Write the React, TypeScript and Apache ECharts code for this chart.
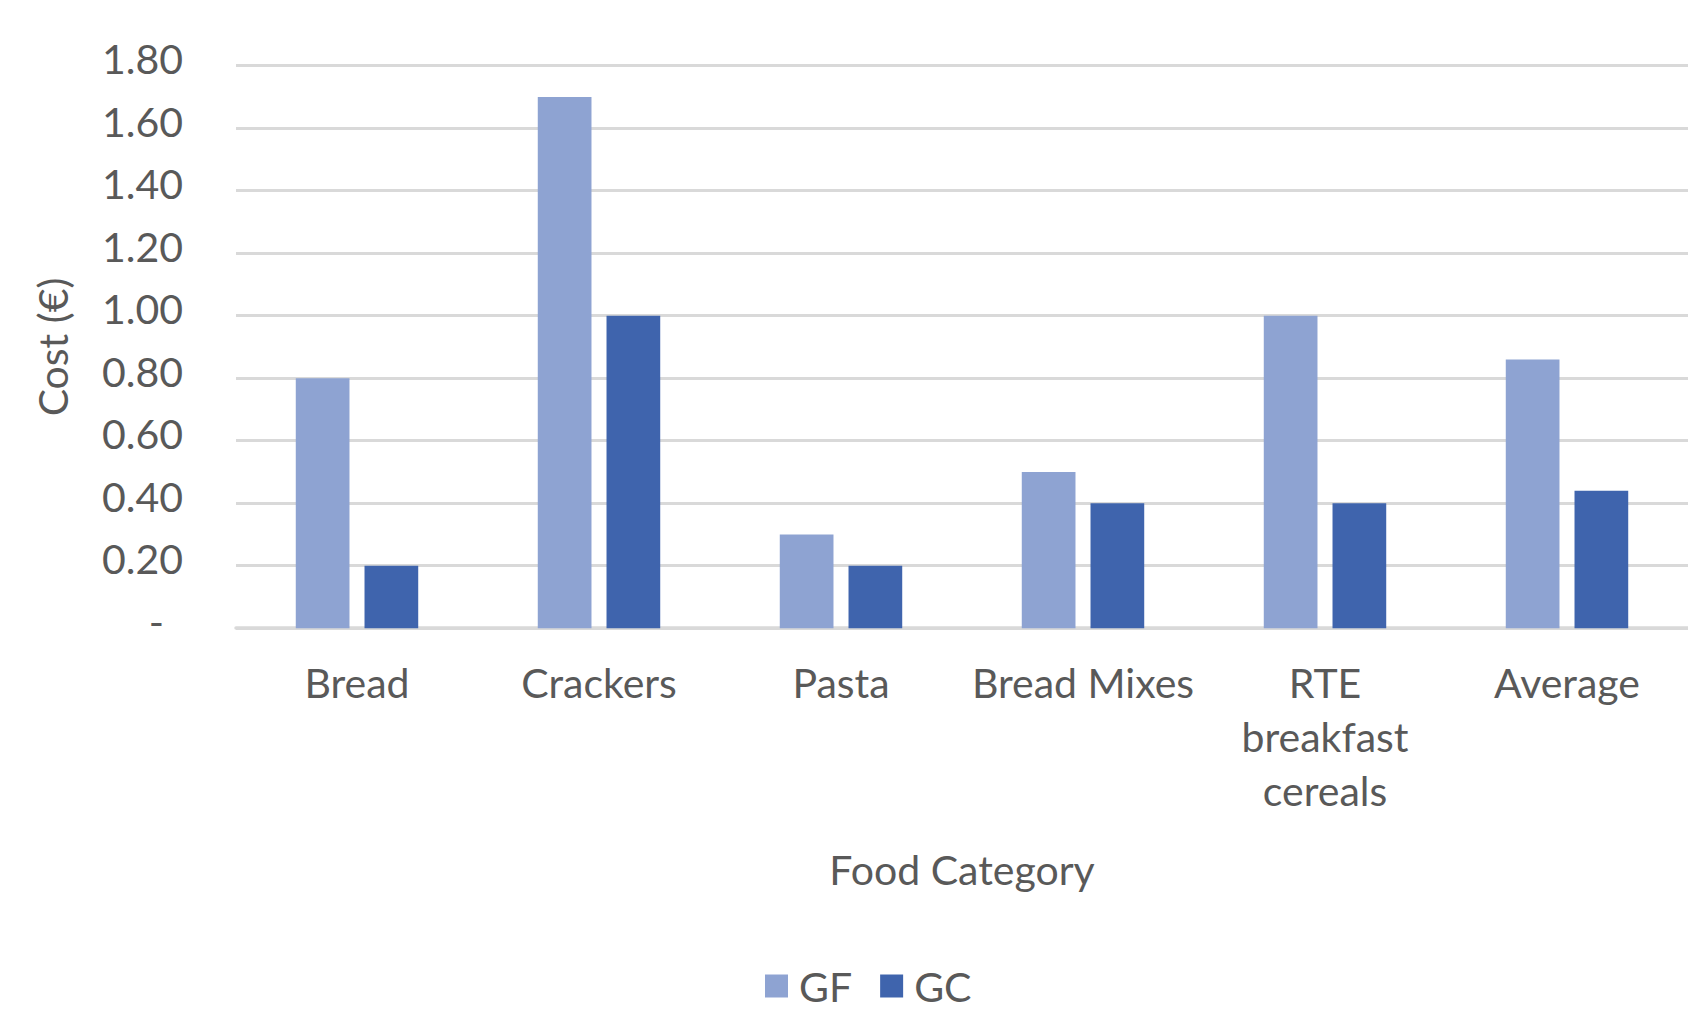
import React, { useEffect, useRef } from "react";
import * as echarts from "echarts";

// Cost per 100 g, gluten-free (GF) vs gluten-containing (GC) products
const categories = ["Bread", "Crackers", "Pasta", "Bread Mixes", "RTE\nbreakfast\ncereals", "Average"];
const gfCost = [0.8, 1.7, 0.3, 0.5, 1.0, 0.86];
const gcCost = [0.2, 1.0, 0.2, 0.4, 0.4, 0.44];
const seriesNames = ["GF", "GC"];

const FONT = "Lato, 'Liberation Sans', sans-serif";
const TEXT = "#595959";
const GRID = "#D9D9D9";

export default function App() {
  const ref = useRef<HTMLDivElement>(null);

  useEffect(() => {
    if (!ref.current) return;
    const chart = echarts.init(ref.current, undefined, { renderer: "svg" });
    chart.setOption({
      animation: false,
      backgroundColor: "#ffffff",
      textStyle: { fontFamily: FONT },
      grid: { left: 236, top: 65.7, width: 1458, height: 562.5, containLabel: false },
      legend: {
        left: 760,
        top: 959,
        itemWidth: 23,
        itemHeight: 23,
        itemGap: 28,
        icon: "rect",
        textStyle: { fontFamily: FONT, fontSize: 41, lineHeight: 44, color: TEXT, padding: [0, 0, 0, 6] },
        data: seriesNames,
      },
      xAxis: {
        type: "category",
        data: categories,
        name: "Food Category",
        nameLocation: "middle",
        nameGap: 221,
        nameTextStyle: { fontFamily: FONT, fontSize: 41, color: TEXT },
        axisLine: { show: true, lineStyle: { color: GRID, width: 3.5 } },
        axisTick: { show: false },
        axisLabel: {
          fontFamily: FONT,
          fontSize: 41,
          color: TEXT,
          margin: 27,
          lineHeight: 54,
          interval: 0,
        },
      },
      yAxis: {
        type: "value",
        min: 0,
        max: 1.8,
        interval: 0.2,
        name: "Cost (€)",
        nameLocation: "middle",
        nameGap: 163,
        nameRotate: 90,
        nameTextStyle: { fontFamily: FONT, fontSize: 41, color: TEXT },
        axisLine: { show: false },
        axisTick: { show: false },
        splitLine: { lineStyle: { color: GRID, width: 3 } },
        axisLabel: {
          fontFamily: FONT,
          fontSize: 41,
          color: TEXT,
          margin: 53,
          padding: [0, 0, 14, 0],
          formatter: (v: number) => (v === 0 ? "{d|-}" : v.toFixed(2)),
          rich: {
            d: { fontFamily: FONT, fontSize: 41, color: TEXT, padding: [0, 19, 0, 0] },
          },
        },
      },
      series: [
        {
          name: seriesNames[0],
          type: "bar",
          data: gfCost,
          itemStyle: { color: "#8EA3D2" },
          barGap: "28%",
          barCategoryGap: "49.4%",
        },
        {
          name: seriesNames[1],
          type: "bar",
          data: gcCost,
          itemStyle: { color: "#3F64AD" },
          barGap: "28%",
          barCategoryGap: "49.4%",
        },
      ],
    });
    return () => chart.dispose();
  }, []);

  return (
    <div
      ref={ref}
      style={{ position: "fixed", left: 0, top: 0, width: 1688, height: 1009, background: "#fff" }}
    />
  );
}
